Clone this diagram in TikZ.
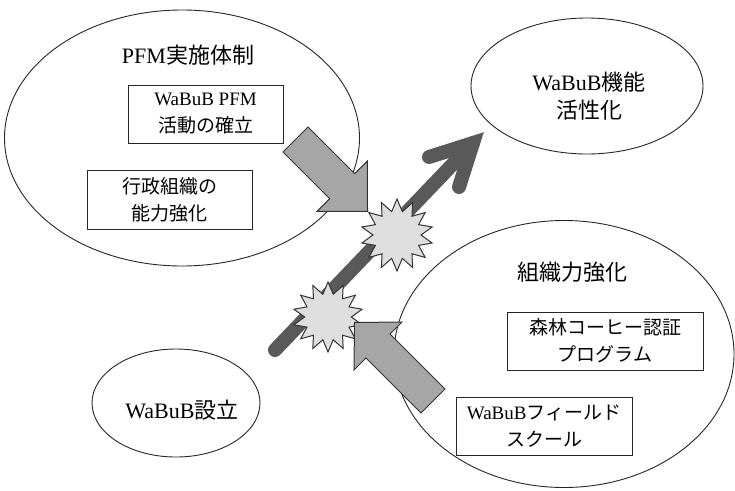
\documentclass[tikz,border=0pt]{standalone}
\usepackage{fontspec}
\setmainfont{Liberation Serif}
\newfontfamily\cjk{Noto Sans CJK JP}
\usetikzlibrary{shapes.geometric}
\tikzset{
  oval/.style={draw=black!85, line width=0.9pt, ellipse, inner sep=0pt},
  txtbox/.style={draw=black!85, line width=0.9pt, rectangle, align=center, inner sep=0pt,
    font=\fontsize{19}{27}\selectfont},
  ttl/.style={align=center, inner sep=0pt, font=\fontsize{22}{28}\selectfont},
  mainarrow/.style={draw=black!65, line width=14pt, line cap=round, line join=miter},
  blockarrow/.style={draw=black!80, line width=1pt, fill=black!35, line join=miter},
  burst/.style={star, star points=14, star point ratio=1.5, draw=black!80, line width=1pt,
    fill=black!13, inner sep=0pt}
}
\begin{document}
\begin{tikzpicture}[x=1pt,y=-1pt]
\useasboundingbox (0,0) rectangle (735,490);
\fill[white] (0,0) rectangle (735,490);
% ellipses
\node[oval, minimum width=355pt, minimum height=256pt] (e1) at (182,138) {};
\node[oval, minimum width=232pt, minimum height=136pt] (e2) at (587,86) {};
\node[oval, minimum width=340pt, minimum height=267pt] (e3) at (564,354) {};
\node[oval, minimum width=168pt, minimum height=108pt] (e4) at (176,403) {};
% titles
\node[ttl] (t1) at (188,55) {PFM{\cjk 実施体制}};
\node[ttl] (t2) at (572,272) {{\cjk 組織力強化}};
\node[ttl] (t3) at (589,96) {WaBuB{\cjk 機能}\\{\cjk 活性化}};
\node[ttl] (t4) at (182,410) {WaBuB{\cjk 設立}};
% boxes
\node[txtbox, minimum width=155pt, minimum height=58pt] (b1) at (205.5,114) {WaBuB PFM\\{\cjk 活動の確立}};
\node[txtbox, minimum width=165pt, minimum height=59pt] (b2) at (169.5,199.5) {{\cjk 行政組織の}\\{\cjk 能力強化}};
\node[txtbox, minimum width=196pt, minimum height=58pt] (b3) at (605,341) {{\cjk 森林コーヒー認証}\\{\cjk プログラム}};
\node[txtbox, minimum width=176pt, minimum height=58pt] (b4) at (544,426) {WaBuB{\cjk フィールド}\\{\cjk スクール}};
% main arrow
\coordinate (mt) at (275,350);
\coordinate (mh) at (473,143);
\coordinate (w1) at (429,157);
\coordinate (w2) at (459,187);
\draw[mainarrow] (mt) -- (mh);
\draw[mainarrow] (w1) -- (mh) -- (w2);
% bursts
\node[burst, minimum size=72pt] (s1) at (397,235) {};
\node[burst, minimum size=70pt] (s2) at (328,317) {};
% block arrows
\filldraw[blockarrow] (283,152) -- (329.7,198.7) -- (317,211.4) -- (367.5,211.4) -- (367.4,161) -- (354.7,173.7) -- (308,127) -- cycle;
\filldraw[blockarrow] (354.5,322.5) -- (402,322) -- (390,334) -- (445,389) -- (421,413) -- (366,358) -- (354,370) -- cycle;
\end{tikzpicture}
\end{document}
